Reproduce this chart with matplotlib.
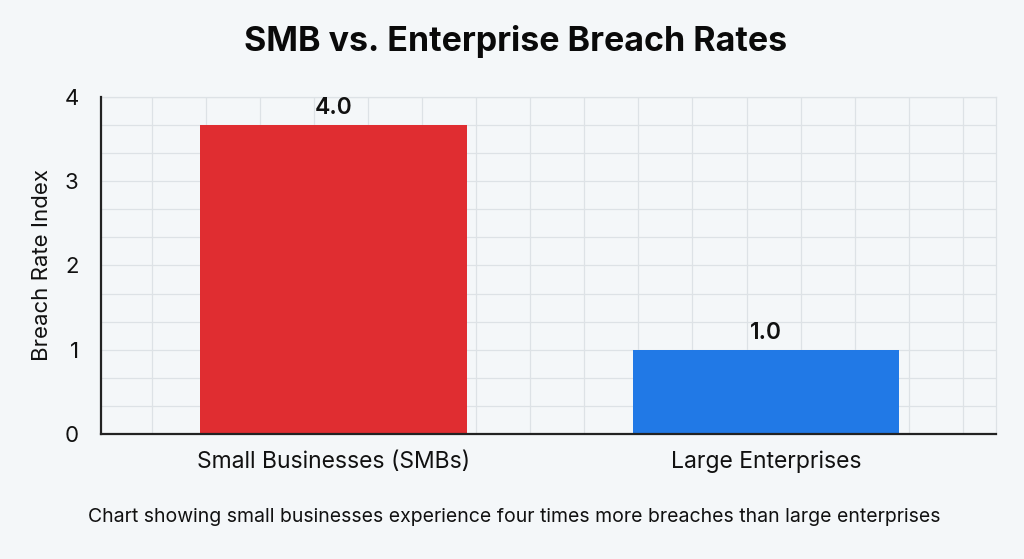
#!/usr/bin/env python3

import matplotlib
matplotlib.use("Agg")
import matplotlib.pyplot as plt
import numpy as np

# data
categories = ["Small Businesses (SMBs)", "Large Enterprises"]
bar_heights = [3.67, 1.0]          # heights as drawn in the chart
bar_labels = ["4.0", "1.0"]        # value labels printed above bars
y_ticks = [0, 1, 2, 3, 4]

title = "SMB vs. Enterprise Breach Rates"
ylabel = "Breach Rate Index"
caption = "Chart showing small businesses experience four times more breaches than large enterprises"

bg = "#f4f7f9"
colors = ["#e02d31", "#2179e6"]

plt.rcParams['font.family'] = ['Inter', 'DejaVu Sans']

fig = plt.figure(figsize=(10.24, 5.59), dpi=100, facecolor=bg)
ax = fig.add_axes([0.0986, 0.2236, 0.8741, 0.6029])
ax.set_facecolor(bg)

x = np.arange(len(categories))
bars = ax.bar(x, bar_heights, width=0.617, color=colors, zorder=3)

for b, txt in zip(bars, bar_labels):
    ax.annotate(txt, (b.get_x() + b.get_width() / 2, b.get_height()),
                xytext=(0, 4.5), textcoords="offset points",
                ha="center", va="bottom", fontsize=16.5, fontweight="semibold",
                color="#111111", zorder=4)

ax.set_xlim(-0.538, 1.532)
ax.set_ylim(0, 4)
ax.set_yticks(y_ticks)
ax.set_yticklabels([str(t) for t in y_ticks])
ax.set_xticks(x)
ax.set_xticklabels(categories)

# grid: thirds on y, fixed spacing on x
ax.set_yticks(np.arange(0, 4.01, 1 / 3), minor=True)
ax.set_xticks(np.arange(-0.42, 1.53, 0.125), minor=True)
ax.grid(which="minor", color="#dde2e6", linewidth=0.9, zorder=0)
ax.grid(which="major", axis="y", color="#dde2e6", linewidth=0.9, zorder=0)
ax.tick_params(which="minor", length=0)
ax.tick_params(axis="x", length=0, labelsize=16.5, pad=12, colors="#111111")
ax.tick_params(axis="y", length=0, labelsize=16, pad=16, colors="#111111")

for s in ["top", "right"]:
    ax.spines[s].set_color("#dde2e6")
    ax.spines[s].set_linewidth(0.9)
for s in ["left", "bottom"]:
    ax.spines[s].set_color("#222222")
    ax.spines[s].set_linewidth(1.6)
    ax.spines[s].set_zorder(5)

ax.set_ylabel(ylabel, fontsize=16, labelpad=9, color="#111111")

fig.text(0.503, 0.925, title, ha="center", va="center", fontsize=24.5,
         fontweight="bold", color="#0a0a0a")
fig.text(0.502, 0.075, caption, ha="center", va="center", fontsize=14,
         color="#111111")

plt.savefig("out.png", dpi=100, facecolor=bg)
